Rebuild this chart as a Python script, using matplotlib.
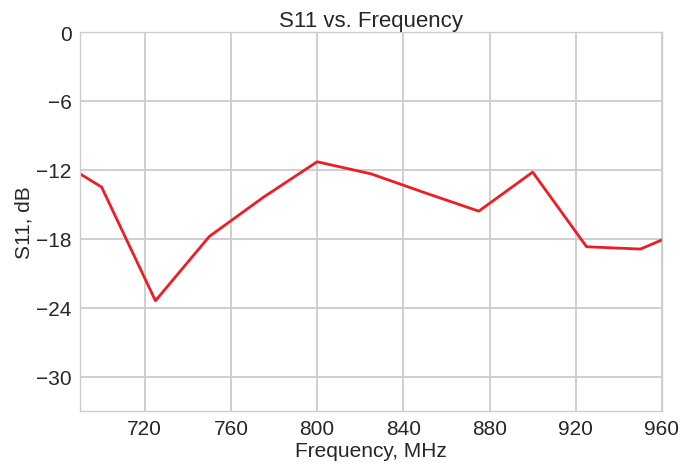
import numpy as np
import matplotlib
matplotlib.use('Agg')
import matplotlib.pyplot as plt

freq_mhz = [690, 700, 725, 750, 775, 800, 825, 850, 875, 900, 925, 950, 960]
s11_db = [-12.35, -13.5, -23.4, -17.8, -14.4, -11.3, -12.35, -14.0, -15.6, -12.2, -18.7, -18.9, -18.1]

x_ticks = [720, 760, 800, 840, 880, 920, 960]
y_ticks = [0, -6, -12, -18, -24, -30]

plt.rcParams['font.family'] = ['Liberation Sans', 'DejaVu Sans']

fig = plt.figure(figsize=(6.99, 4.64), dpi=100)
ax = fig.add_axes([80/699, 1 - 412/464, (662-80)/699, (412-33)/464])

ax.plot(freq_mhz, s11_db, color='#ee1c25', linewidth=2)

ax.set_xlim(690, 960)
ax.set_ylim(-33, 0)
ax.set_xticks(x_ticks)
ax.set_yticks(y_ticks)
ax.grid(True, color='#cccccc', linewidth=1.3)
ax.set_axisbelow(True)
for s in ax.spines.values():
    s.set_color('#cccccc')
    s.set_linewidth(1.0)
ax.tick_params(length=0, labelsize=15, colors='#262626', pad=6)

ax.set_xlabel('Frequency, MHz', fontsize=15, color='#262626', labelpad=2)
ax.set_ylabel('S11, dB', fontsize=15, color='#262626', labelpad=2)
ax.set_title('S11 vs. Frequency', fontsize=16, color='#262626', pad=4)

fig.savefig('out.png', dpi=100)
